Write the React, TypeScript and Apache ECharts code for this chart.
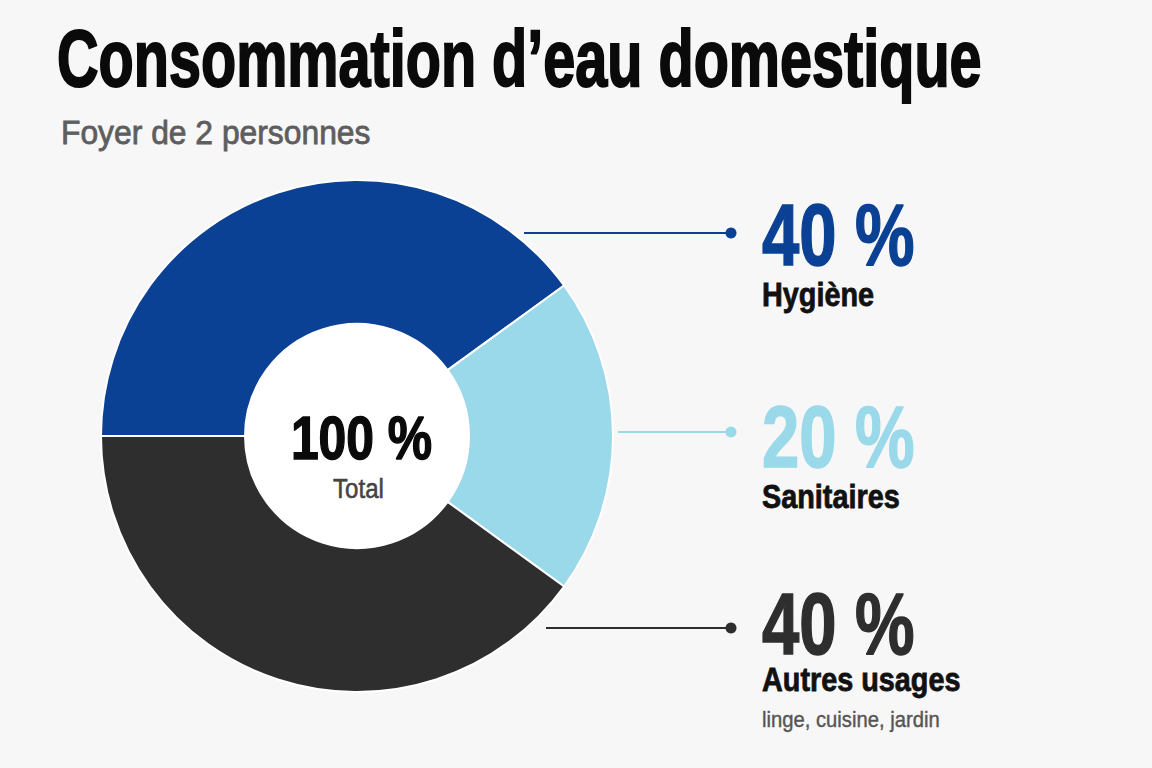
import React, { useEffect, useRef } from "react";
import * as echarts from "echarts";

// Water use shares for a two-person household
const categories = ["Hygiène", "Sanitaires", "Autres usages"];
const shares = [40, 20, 40];
const details = ["", "", "linge, cuisine, jardin"];
const sliceColors = ["#0b4194", "#99d9e9", "#2e2e2e"];
const totalLabel = "100 %";
const totalCaption = "Total";

const titleText = "Consommation d’eau domestique";
const subtitleText = "Foyer de 2 personnes";

const FONT = '"Liberation Sans", Arial, Helvetica, sans-serif';
const BG = "#f7f7f7";

// Callout rows on the right: connector height, value line, name line
const calloutY = [233, 432, 628];
const calloutStartX = [524, 618, 546];
const valueY = [235, 437, 624];
const nameY = [295, 497, 680];
const detailY = 719;
const dotX = 731;
const textX = 762;

// Condensed text: a regular face squeezed horizontally, optionally thickened
function condensed(
  text: string,
  x: number,
  y: number,
  size: number,
  weight: string,
  fill: string,
  scaleX: number,
  align: string = "left",
  heavy: number = 0
) {
  const style: any = {
    text,
    font: `${weight} ${size}px ${FONT}`,
    fill,
    align,
    verticalAlign: "middle",
  };
  if (heavy > 0) {
    style.stroke = fill;
    style.lineWidth = heavy;
  }
  return { type: "text", x, y, scaleX, z: 100, style };
}

export default function App() {
  const ref = useRef<HTMLDivElement>(null);

  useEffect(() => {
    document.body.style.margin = "0";
    document.body.style.background = BG;
    const chart = echarts.init(ref.current!, null, { renderer: "svg" });

    const graphics: any[] = [
      condensed(titleText, 57, 58, 80, "bold", "#0a0a0a", 0.72, "left", 2),
      condensed(subtitleText, 61, 132, 33.5, "normal", "#5e5e5e", 0.95, "left", 0.8),
      condensed(totalLabel, 361.5, 438, 61.5, "bold", "#0a0a0a", 0.81, "center", 1.5),
      condensed(totalCaption, 358.5, 488, 28, "normal", "#444444", 0.86, "center", 0.6),
    ];

    categories.forEach((name, i) => {
      const y = calloutY[i];
      graphics.push(
        {
          type: "line",
          z: 100,
          shape: { x1: calloutStartX[i], y1: y, x2: dotX, y2: y },
          style: { stroke: sliceColors[i], lineWidth: 2 },
        },
        {
          type: "circle",
          z: 100,
          shape: { cx: dotX, cy: y, r: 5.5 },
          style: { fill: sliceColors[i] },
        },
        condensed(`${shares[i]} %`, textX, valueY[i], 87, "bold", sliceColors[i], 0.77, "left", 1.5),
        condensed(name, textX, nameY[i], 33.5, "bold", "#111111", 0.86, "left", 0.8)
      );
      if (details[i]) {
        graphics.push(condensed(details[i], textX, detailY, 22, "normal", "#555555", 0.92, "left", 0.4));
      }
    });

    chart.setOption({
      animation: false,
      backgroundColor: BG,
      series: [
        {
          type: "pie",
          center: [357, 436],
          radius: [0, 113],
          silent: true,
          label: { show: false },
          labelLine: { show: false },
          itemStyle: { color: "#ffffff" },
          data: [{ value: 1, name: totalCaption }],
          z: 1,
        },
        {
          type: "pie",
          center: [357, 436],
          radius: [112, 256],
          startAngle: 180,
          clockwise: true,
          silent: true,
          label: { show: false },
          labelLine: { show: false },
          itemStyle: { borderColor: "#ffffff", borderWidth: 2 },
          data: categories.map((name, i) => ({
            name,
            value: shares[i],
            itemStyle: { color: sliceColors[i] },
          })),
          z: 2,
        },
      ],
      graphic: graphics,
    });

    return () => chart.dispose();
  }, []);

  return <div ref={ref} style={{ width: 1152, height: 768 }} />;
}
